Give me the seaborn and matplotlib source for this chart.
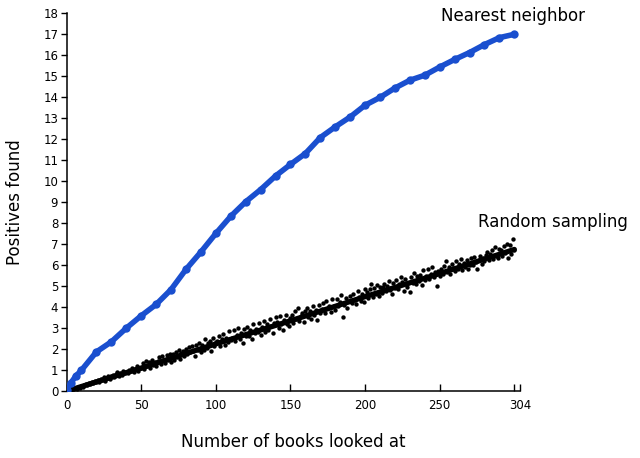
import numpy as np
import pandas as pd
import matplotlib
matplotlib.use("Agg")
import matplotlib.pyplot as plt
import seaborn as sns

# Nearest neighbor curve
nn_x = [0, 3, 6, 10, 20, 30, 40, 50, 60, 70, 80, 90, 100, 110, 120, 130, 140,
        150, 160, 170, 180, 190, 200, 210, 220, 230, 240, 250, 260, 270, 280,
        290, 300]
nn_y = [0.05, 0.4, 0.7, 1.0, 1.87, 2.35, 3.0, 3.59, 4.13, 4.84, 5.8, 6.63,
        7.51, 8.33, 9.02, 9.6, 10.25, 10.8, 11.32, 12.08, 12.59, 13.06, 13.62,
        13.99, 14.44, 14.81, 15.05, 15.44, 15.8, 16.13, 16.51, 16.84, 17.0]

# Random sampling: fitted line and individual runs
rs_line_x = [0, 50, 100, 150, 200, 250, 300]
rs_line_y = [0.0, 1.1, 2.25, 3.35, 4.5, 5.6, 6.75]

rs_x = list(range(1, 301))
rs_y = [
    0.00, 0.05, 0.02, 0.10, 0.08, 0.15, 0.12, 0.20, 0.14, 0.25,
    0.22, 0.30, 0.35, 0.28, 0.40, 0.33, 0.45, 0.38, 0.50, 0.42,
    0.55, 0.44, 0.60, 0.52, 0.66, 0.50, 0.62, 0.72, 0.58, 0.70,
    0.75, 0.66, 0.82, 0.90, 0.70, 0.85, 0.78, 0.95, 0.86, 0.92,
    0.88, 1.00, 0.96, 1.10, 0.90, 1.05, 1.18, 0.98, 1.12, 1.08,
    1.35, 1.05, 1.45, 1.20, 1.40, 1.12, 1.50, 1.25, 1.38, 1.18,
    1.45, 1.62, 1.30, 1.68, 1.50, 1.32, 1.70, 1.48, 1.75, 1.40,
    1.78, 1.50, 1.88, 1.62, 1.98, 1.55, 1.82, 1.92, 1.66, 2.02,
    1.75, 2.08, 1.85, 2.15, 1.92, 1.68, 2.20, 1.98, 2.30, 1.85,
    2.20, 1.95, 2.50, 2.05, 2.28, 2.40, 1.90, 2.55, 2.15, 2.35,
    2.40, 2.65, 2.15, 2.48, 2.72, 2.22, 2.55, 2.35, 2.85, 2.42,
    2.55, 2.90, 2.38, 2.68, 3.02, 2.48, 2.75, 2.30, 2.95, 2.62,
    3.05, 2.65, 2.92, 2.50, 3.20, 2.75, 2.98, 2.80, 3.25, 2.68,
    3.05, 3.32, 2.80, 3.20, 2.90, 3.45, 3.08, 2.75, 3.25, 3.55,
    3.30, 3.02, 3.58, 3.22, 2.92, 3.40, 3.62, 3.18, 3.08, 3.50,
    3.62, 3.25, 3.80, 3.42, 3.95, 3.32, 3.60, 3.72, 3.28, 3.82,
    3.95, 3.55, 3.80, 3.42, 4.05, 3.65, 3.88, 3.38, 4.10, 3.72,
    3.90, 4.20, 3.70, 4.28, 3.95, 4.05, 3.75, 4.40, 4.05, 3.88,
    4.40, 4.05, 4.25, 4.58, 3.55, 4.12, 4.45, 3.98, 4.30, 4.55,
    4.22, 4.62, 4.35, 4.15, 4.78, 4.48, 4.30, 4.65, 4.25, 4.85,
    4.70, 4.42, 4.85, 5.10, 4.50, 4.90, 4.62, 5.05, 4.52, 4.95,
    4.68, 4.98, 5.12, 4.78, 5.02, 5.25, 4.82, 4.65, 5.15, 4.90,
    5.30, 4.85, 5.08, 5.45, 5.20, 4.78, 5.35, 4.98, 5.15, 4.70,
    5.45, 5.15, 5.62, 5.10, 5.50, 5.25, 5.55, 5.05, 5.75, 5.30,
    5.48, 5.82, 5.32, 5.60, 5.92, 5.45, 5.68, 5.02, 5.72, 5.50,
    5.80, 5.58, 5.98, 6.22, 5.68, 5.92, 5.60, 6.05, 5.85, 5.70,
    6.18, 5.82, 6.08, 6.30, 5.75, 6.12, 5.92, 6.25, 5.80, 6.02,
    6.32, 6.00, 6.38, 6.15, 5.80, 6.25, 6.42, 6.05, 6.35, 6.18,
    6.48, 6.62, 6.25, 6.52, 6.70, 6.30, 6.85, 6.45, 6.35, 6.75,
    6.72, 6.45, 6.90, 6.58, 7.00, 6.35, 6.95, 6.52, 7.25, 6.72,
]

x_ticks = [0, 50, 100, 150, 200, 250, 300, 304]
x_labels = ["0", "50", "100", "150", "200", "250", "", "304"]
y_ticks = list(range(0, 19))

sns.set_theme(style="white")
plt.rcParams['font.family'] = ['DejaVu Sans']
plt.rcParams['text.color'] = 'black'
plt.rcParams['axes.labelcolor'] = 'black'

nn = pd.DataFrame({'x': nn_x, 'y': nn_y})
line = pd.DataFrame({'x': rs_line_x, 'y': rs_line_y})
runs = pd.DataFrame({'x': rs_x, 'y': rs_y})

fig = plt.figure(figsize=(6.4, 4.58), dpi=100)
ax = fig.add_axes([0.104, 0.146, 0.709, 0.825])

sns.scatterplot(data=runs, x='x', y='y', ax=ax, color='black', s=10,
                linewidth=0, zorder=2)
sns.lineplot(data=line, x='x', y='y', ax=ax, color='black', linewidth=3.8,
             zorder=3)
blue = '#1a4fcf'
sns.lineplot(data=nn, x='x', y='y', ax=ax, color=blue, linewidth=4,
             marker='o', markersize=6, markeredgewidth=0, zorder=4)

ax.set_xlim(0, 304)
ax.set_ylim(0, 18)
ax.set_xticks(x_ticks)
ax.set_xticklabels(x_labels)
ax.set_yticks(y_ticks)
ax.tick_params(axis='x', direction='in', length=5, width=1, colors='black',
               labelsize=8.5, pad=6)
ax.tick_params(axis='y', direction='out', length=4, width=1, colors='black',
               labelsize=8.5, pad=2)
ax.tick_params(bottom=True, left=True)

for side in ['top', 'right']:
    ax.spines[side].set_visible(False)
for side in ['left', 'bottom']:
    ax.spines[side].set_color('black')
    ax.spines[side].set_linewidth(1.1)

ax.set_xlabel('Number of books looked at', fontsize=12, labelpad=15,
              color='black')
ax.set_ylabel('Positives found', fontsize=12, labelpad=14, color='black')

ax.text(251, 17.86, 'Nearest neighbor', fontsize=12, va='center', ha='left',
        color='black', clip_on=False)
ax.text(275.5, 8.05, 'Random sampling', fontsize=12, va='center', ha='left',
        color='black', clip_on=False)

fig.savefig('out.png', dpi=100)
